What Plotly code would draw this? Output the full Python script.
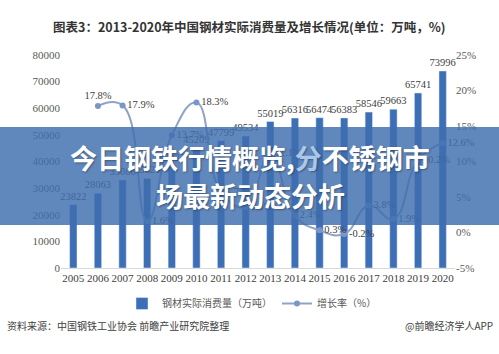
import plotly.graph_objects as go

years = [str(y) for y in range(2005, 2021)]
consumption = [23822, 28063, 33086, 33626, 38233, 45209, 47799, 49534, 55019,
               56316, 56474, 56383, 58546, 59663, 65741, 73996]
growth = [None, 17.8, 17.9, 1.6, 13.7, 18.3, 5.7, 3.6, 11.1,
          2.4, 0.3, -0.2, 3.8, 1.9, 10.2, 12.6]
growth_labels = ["" if g is None else f"{g:.1f}%" for g in growth]
growth_pos = ["middle right", "top center"] + ["middle right"] * 14

left_ticks = [0, 10000, 20000, 30000, 40000, 50000, 60000, 70000, 80000]
right_ticks = [-5, 0, 5, 10, 15, 20, 25]

title = "图表3：2013-2020年中国钢材实际消费量及增长情况(单位：万吨，%)"
bar_name = "钢材实际消费量（万吨）"
line_name = "增长率（%）"
source = "资料来源：中国钢铁工业协会 前瞻产业研究院整理"
credit = "@前瞻经济学人APP"

# pixel helpers for a 499x354 canvas with plot area x 61..455, y 55..268
L, R, T, B = 61, 455, 55, 268
def px(x):
    return (x - L) / (R - L)
def py(y):
    return (B - y) / (B - T)

serif = "Liberation Serif, Times New Roman, serif"
sans = "Noto Sans CJK SC, sans-serif"

fig = go.Figure()
fig.add_trace(go.Bar(
    x=years, y=consumption, name=bar_name,
    marker_color="#3d6fb6", width=0.3,
    text=[str(v) for v in consumption], textposition="outside",
    textangle=0, constraintext="none",
    textfont=dict(family=serif, size=10.5, color="#404040"),
    cliponaxis=False,
))
fig.add_trace(go.Scatter(
    x=years, y=growth, name=line_name, yaxis="y2",
    mode="lines+markers+text", line=dict(color="#8ea3c6", width=2, shape="spline", smoothing=1.3),
    marker=dict(color="#7b96c8", size=6),
    text=growth_labels, textposition=growth_pos,
    textfont=dict(family=serif, size=10.5, color="#404040"),
    connectgaps=False, cliponaxis=False,
))

fig.update_layout(
    width=499, height=354,
    margin=dict(l=L, r=499 - R, t=T, b=354 - B, autoexpand=False),
    paper_bgcolor="white", plot_bgcolor="white",
    showlegend=True,
    legend=dict(orientation="h", x=px(252), xanchor="center", y=py(289), yanchor="top",
                font=dict(family=sans, size=10, color="#595959"),
                itemwidth=30, tracegroupgap=0),
    xaxis=dict(type="category", range=[-0.5, 15.5], autorange=False, automargin=False,
               showgrid=False, showline=True, linecolor="#d9d9d9",
               ticks="", tickangle=0, tickfont=dict(family=serif, size=11, color="#404040")),
    yaxis=dict(range=[0, 80000], autorange=False, automargin=False,
               tickmode="array", tickvals=left_ticks,
               ticktext=[str(v) for v in left_ticks], showgrid=False,
               zeroline=False, ticks="", tickfont=dict(family=serif, size=11, color="#595959")),
    yaxis2=dict(range=[-5, 25], autorange=False, automargin=False,
                tickmode="array", tickvals=right_ticks,
                ticktext=[f"{v}%" for v in right_ticks],
                overlaying="y", side="right", showgrid=False, zeroline=False,
                tickfont=dict(family=serif, size=11, color="#595959")),
    bargap=0.7,
)

fig.add_annotation(text="<b>" + title + "</b>", xref="paper", yref="paper",
                   x=px(249), y=py(15), showarrow=False,
                   font=dict(family=sans, size=12.5, color="#333333"))
fig.add_annotation(text=source, xref="paper", yref="paper", x=px(5), y=py(335),
                   xanchor="left", showarrow=False,
                   font=dict(family=sans, size=10, color="#404040"))
fig.add_annotation(text=credit, xref="paper", yref="paper", x=px(495), y=py(335),
                   xanchor="right", showarrow=False,
                   font=dict(family=sans, size=10, color="#404040"))

# overlay banner
fig.add_shape(type="rect", xref="paper", yref="paper",
              x0=px(0), x1=px(499), y0=py(225), y1=py(127),
              fillcolor="rgba(62,110,175,0.82)", line=dict(width=0), layer="above")
fig.add_annotation(
    text="<b>今日钢铁行情概览,<span style='color:#a9c8ea'>分</span>不锈钢市</b>",
    xref="paper", yref="paper", x=px(250), y=py(157), showarrow=False,
    font=dict(family=sans, size=27, color="white", shadow="1px 1px 2px rgba(0,0,0,0.35)"))
fig.add_annotation(
    text="<b>场最新动态分析</b>",
    xref="paper", yref="paper", x=px(250), y=py(195), showarrow=False,
    font=dict(family=sans, size=27, color="white", shadow="1px 1px 2px rgba(0,0,0,0.35)"))

fig.write_html("out.html")
